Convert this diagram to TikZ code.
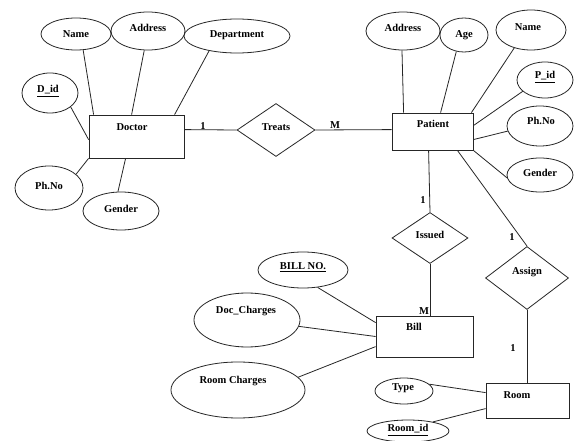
\documentclass[tikz,border=0pt]{standalone}
\usepackage{fontspec}
\setmainfont{Liberation Serif}
\usetikzlibrary{shapes.geometric,calc}
\begin{document}
\begin{tikzpicture}[x=1pt,y=-1pt,
 lw/.style={line width=0.8pt, draw=black!85},
 attr/.style={ellipse, lw, inner sep=0pt},
 ent/.style={rectangle, lw, inner sep=0pt},
 rel/.style={diamond, lw, inner sep=0pt},
 lbl/.style={font=\fontsize{10.5}{12}\selectfont\bfseries, inner sep=0pt},
 conn/.style={lw}]
\fill[white] (0,0) rectangle (574,441);
\useasboundingbox (0,0) rectangle (574,441);

% entities
\node[ent, minimum width=95pt, minimum height=43pt] (doctor) at (136.5,136.5) {};
\node[lbl] (tdoctor) at (132,127) {Doctor};
\node[ent, minimum width=81pt, minimum height=37pt] (patient) at (432.5,131.5) {};
\node[lbl] (tpatient) at (433,124) {Patient};
\node[ent, minimum width=97pt, minimum height=41pt] (bill) at (424.5,336.5) {};
\node[lbl] (tbill) at (414,327) {Bill};
\node[ent, minimum width=83pt, minimum height=35pt] (room) at (527.5,400.5) {};
\node[lbl] (troom) at (517,395) {Room};

% relationships
\node[rel, minimum width=78pt, minimum height=53pt] (treats) at (276,130) {};
\node[lbl] (ttreats) at (276,127) {Treats};
\node[rel, minimum width=76pt, minimum height=51pt] (issued) at (430,238) {};
\node[lbl] (tissued) at (430,235) {Issued};
\node[rel, minimum width=83pt, minimum height=63pt] (assign) at (527,278) {};
\node[lbl] (tassign) at (527,272) {Assign};

% doctor attributes
\node[attr, minimum width=70pt, minimum height=32pt] (dname) at (76,34) {};
\node[lbl] (tdname) at (76,34) {Name};
\node[attr, minimum width=74pt, minimum height=38pt] (daddr) at (148,31) {};
\node[lbl] (tdaddr) at (148,28) {Address};
\node[attr, minimum width=106pt, minimum height=34pt] (ddept) at (237,36) {};
\node[lbl] (tddept) at (237,35) {Department};
\node[attr, minimum width=56pt, minimum height=40pt] (did) at (50,93) {};
\node[lbl] (tdid) at (48,91) {\underline{D\_id}};
\node[attr, minimum width=68pt, minimum height=44pt] (dph) at (49,188) {};
\node[lbl] (tdph) at (49,186) {Ph.No};
\node[attr, minimum width=76pt, minimum height=38pt] (dgen) at (121,211) {};
\node[lbl] (tdgen) at (121,209) {Gender};

% patient attributes
\node[attr, minimum width=74pt, minimum height=38pt] (paddr) at (403,31) {};
\node[lbl] (tpaddr) at (403,28) {Address};
\node[attr, minimum width=48pt, minimum height=34pt] (page) at (464,35) {};
\node[lbl] (tpage) at (464,35) {Age};
\node[attr, minimum width=70pt, minimum height=40pt] (pname) at (531,30) {};
\node[lbl] (tpname) at (528,27) {Name};
\node[attr, minimum width=56pt, minimum height=36pt] (pid) at (545,80) {};
\node[lbl] (tpid) at (545,77) {\underline{P\_id}};
\node[attr, minimum width=66pt, minimum height=40pt] (pph) at (540,126) {};
\node[lbl] (tpph) at (541,121) {Ph.No};
\node[attr, minimum width=66pt, minimum height=34pt] (pgen) at (540,175) {};
\node[lbl] (tpgen) at (540,173) {Gender};

% bill attributes
\node[attr, minimum width=90pt, minimum height=36pt] (billno) at (303,270) {};
\node[lbl] (tbillno) at (303,267) {\underline{BILL NO.}};
\node[attr, minimum width=106pt, minimum height=54pt] (doc) at (247,320) {};
\node[lbl] (tdoc) at (246,311) {Doc\_Charges};
\node[attr, minimum width=134pt, minimum height=56pt] (roomch) at (238,390) {};
\node[lbl] (troomch) at (233,381) {Room Charges};

% room attributes
\node[attr, minimum width=58pt, minimum height=26pt] (type) at (404,391) {};
\node[lbl] (ttype) at (403,388) {Type};
\node[attr, minimum width=82pt, minimum height=22pt] (roomid) at (408,431) {};
\node[lbl] (troomid) at (408,430) {\underline{Room\_id}};

% attribute connectors
\draw[conn] (dname.-66) -- ($(doctor.north west)+(5,0)$);
\draw[conn] (daddr.-101) -- ($(doctor.north west)+(43,0)$);
\draw[conn] (ddept.-152) -- ($(doctor.north west)+(86,0)$);
\draw[conn] (did.-34) -- ($(doctor.north west)+(0,25)$);
\draw[conn] (dph.27) -- (doctor.south west);
\draw[conn] (dgen.99) -- ($(doctor.south west)+(37,0)$);

\draw[conn] (paddr.-93) -- ($(patient.north west)+(12,0)$);
\draw[conn] (page.-115) -- ($(patient.north west)+(49,0)$);
\draw[conn] (pname.-133) -- ($(patient.north east)+(-2,0)$);
\draw[conn] (pid.-153) -- ($(patient.north east)+(0,13)$);
\draw[conn] (pph.-171) -- ($(patient.north east)+(0,27)$);
\draw[conn] (pgen.-175) -- (patient.south east);

\draw[conn] (billno.-50) -- ($(bill.north west)+(0,7)$);
\draw[conn] (doc.-7.5) -- (bill.west);
\draw[conn] (roomch.12) -- ($(bill.north west)+(0,31)$);

\draw[conn] (type.15) -- ($(room.north west)+(0,10)$);
\draw[conn] (roomid.20) -- ($(room.north west)+(0,26)$);

% relationship connectors
\draw[conn] ($(doctor.north east)+(0,15)$) -- (treats.west);
\draw[conn] (treats.east) -- ($(patient.north west)+(0,17)$);
\draw[conn] ($(patient.south west)+(37,0)$) -- (issued.north);
\draw[conn] (issued.south) -- (issued.south |- bill.north);
\draw[conn] ($(patient.south east)+(-16,0)$) -- (assign.north);
\draw[conn] (assign.south) -- (assign.south |- room.north);

% cardinalities
\node[lbl] (c1) at (203,126) {1};
\node[lbl] (c2) at (335,125) {M};
\node[lbl] (c3) at (423,200) {1};
\node[lbl] (c4) at (424,311) {M};
\node[lbl] (c5) at (512,237) {1};
\node[lbl] (c6) at (513,348) {1};
\end{tikzpicture}
\end{document}
